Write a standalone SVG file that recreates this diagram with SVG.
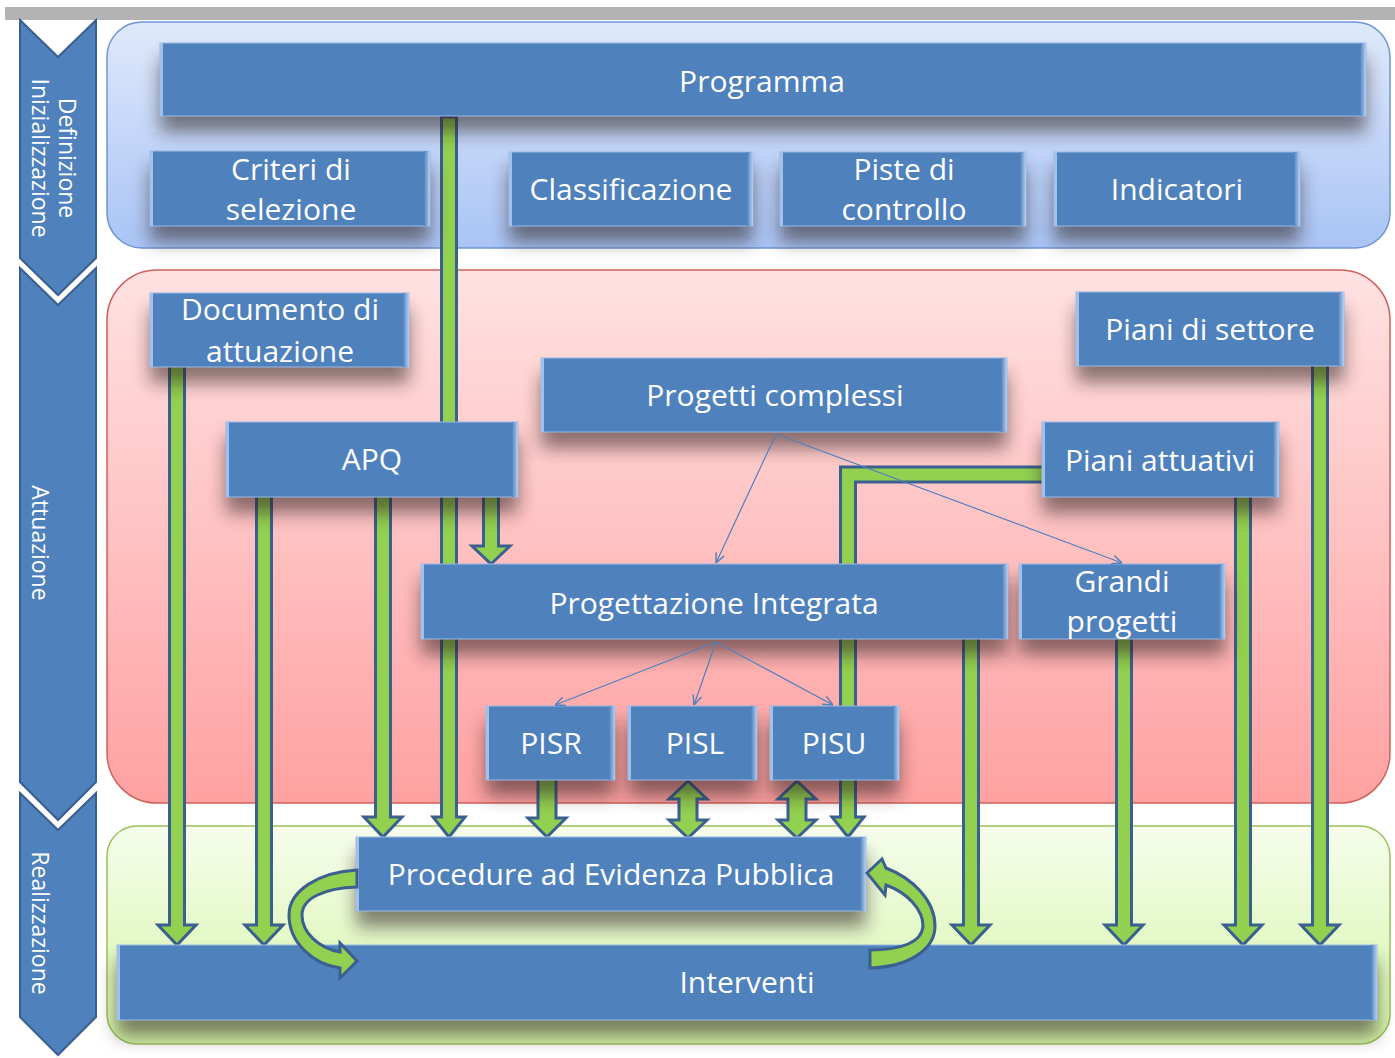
<svg xmlns="http://www.w3.org/2000/svg" width="1395" height="1058" viewBox="0 0 1395 1058">
<defs>
<linearGradient id="gBlue" x1="0" y1="0" x2="0" y2="1"><stop offset="0" stop-color="#dfe9fb"/><stop offset="1" stop-color="#a9c4f5"/></linearGradient>
<linearGradient id="gRed" x1="0" y1="0" x2="0" y2="1"><stop offset="0" stop-color="#ffe2e2"/><stop offset="1" stop-color="#ffa1a1"/></linearGradient>
<linearGradient id="gGreen" x1="0" y1="0" x2="0" y2="1"><stop offset="0" stop-color="#f6fdec"/><stop offset="1" stop-color="#d3f4a6"/></linearGradient>
<linearGradient id="gBevR" x1="0" y1="0" x2="1" y2="0"><stop offset="0" stop-color="#4f81bd"/><stop offset="1" stop-color="#b7d2f4"/></linearGradient>
<filter id="blur" x="-20%" y="-60%" width="140%" height="220%"><feGaussianBlur stdDeviation="9"/></filter>
<marker id="open" viewBox="0 0 10 10" refX="10" refY="5" markerWidth="11" markerHeight="11" markerUnits="userSpaceOnUse" orient="auto"><path d="M1,1 L10,5 L1,9" fill="none" stroke="#4f81bd" stroke-width="1.3"/></marker>
<style>
.band-b{fill:url(#gBlue);stroke:#6f95d3;stroke-width:1.5}
.band-r{fill:url(#gRed);stroke:#d0605c;stroke-width:1.5}
.band-g{fill:url(#gGreen);stroke:#9bc05a;stroke-width:1.5}
.chev{fill:#4f81bd;stroke:#3a5f8e;stroke-width:2}
.vt{font-family:"Open Sans","Liberation Sans",sans-serif;font-size:23px;fill:#ffffff;text-anchor:middle}
.sh{fill:#2a1f1f;opacity:.55;filter:url(#blur)}
.box{fill:#4f81bd;stroke:#9ab9e4;stroke-width:1}
.bl{fill:#a2c1ea}
.br{fill:url(#gBevR)}
.t{font-family:"Open Sans","Liberation Sans",sans-serif;font-size:30px;fill:#ffffff;text-anchor:middle}
.ga{fill:#92d050;stroke:#3b5f8f;stroke-width:3;stroke-linejoin:miter}
.thin{fill:none;stroke:#4f81bd;stroke-width:1.2;marker-end:url(#open)}
</style>
</defs>
<rect x="5" y="7" width="1390" height="13" fill="#b3b3b3"/>
<g id="phases">
<polygon class="chev" points="20,20 58,57 96,20 96,258 58,295 20,258"/>
<polygon class="chev" points="20,268 58,305 96,268 96,782 58,820 20,782"/>
<polygon class="chev" points="20,793 58,830 96,793 96,1017 58,1055 20,1017"/>
<text class="vt" transform="translate(59,158) rotate(90)">Definizione</text>
<text class="vt" transform="translate(32,158) rotate(90)">Inizializzazione</text>
<text class="vt" transform="translate(32,543) rotate(90)">Attuazione</text>
<text class="vt" transform="translate(32,923) rotate(90)">Realizzazione</text>
</g>
<g id="bands">
<rect class="band-b" x="107" y="22" width="1283" height="226" rx="35"/>
<rect class="band-r" x="107" y="270" width="1283" height="533" rx="50"/>
<rect class="band-g" x="107" y="826" width="1283" height="218" rx="30"/>
</g>
<g id="connectors">
<path class="ga" d="M441.5,117 H456.5 V817 H465 L449,837 L433,817 H441.5 Z"/>
<path class="ga" d="M169.5,365 H184.5 V925 H196 L177,945 L158,925 H169.5 Z"/>
<path class="ga" d="M256.5,495 H271.5 V925 H283 L264,945 L245,925 H256.5 Z"/>
<path class="ga" d="M375.5,495 H390.5 V817 H402 L383,837 L364,817 H375.5 Z"/>
<path class="ga" d="M483.5,495 H498.5 V546 H510 L491,564 L472,546 H483.5 Z"/>
<path class="ga" d="M538,778 H556 V818 H566 L547,837 L528,818 H538 Z"/>
<path class="ga" d="M688,781 L707,799 H697 V820 H707 L688,838 L669,820 H679 V799 H669 Z"/>
<path class="ga" d="M797,781 L816,799 H806 V820 H816 L797,838 L778,820 H788 V799 H778 Z"/>
<path class="ga" d="M1044,467 H840.5 V817 H832 L848,837 L864,817 H855.5 V482 H1044 Z"/>
<path class="ga" d="M963.5,637 H978.5 V925 H990 L971,945 L952,925 H963.5 Z"/>
<path class="ga" d="M1116.5,637 H1131.5 V925 H1143 L1124,945 L1105,925 H1116.5 Z"/>
<path class="ga" d="M1235.5,495 H1250.5 V925 H1262 L1243,945 L1224,925 H1235.5 Z"/>
<path class="ga" d="M1312.5,364 H1327.5 V925 H1339 L1320,945 L1301,925 H1312.5 Z"/>
</g>
<g id="n-programma"><rect class="sh" x="160" y="59" width="1206" height="73"/><rect class="box" x="160" y="43" width="1206" height="73"/><rect class="bl" x="160" y="43" width="3" height="73"/><rect class="br" x="1360" y="43" width="6" height="73"/><text class="t" x="762" y="92">Programma</text></g>
<g id="n-criteri"><rect class="sh" x="150" y="167" width="280" height="75"/><rect class="box" x="150" y="151" width="280" height="75"/><rect class="bl" x="150" y="151" width="3" height="75"/><rect class="br" x="424" y="151" width="6" height="75"/><text class="t" x="291" y="180">Criteri di</text><text class="t" x="291" y="220">selezione</text></g>
<g id="n-classificazione"><rect class="sh" x="509" y="168" width="244" height="74"/><rect class="box" x="509" y="152" width="244" height="74"/><rect class="bl" x="509" y="152" width="3" height="74"/><rect class="br" x="747" y="152" width="6" height="74"/><text class="t" x="631" y="200">Classificazione</text></g>
<g id="n-piste"><rect class="sh" x="780" y="168" width="246" height="74"/><rect class="box" x="780" y="152" width="246" height="74"/><rect class="bl" x="780" y="152" width="3" height="74"/><rect class="br" x="1020" y="152" width="6" height="74"/><text class="t" x="904" y="180">Piste di</text><text class="t" x="904" y="220">controllo</text></g>
<g id="n-indicatori"><rect class="sh" x="1054" y="168" width="246" height="74"/><rect class="box" x="1054" y="152" width="246" height="74"/><rect class="bl" x="1054" y="152" width="3" height="74"/><rect class="br" x="1294" y="152" width="6" height="74"/><text class="t" x="1177" y="200">Indicatori</text></g>
<g id="n-documento"><rect class="sh" x="150" y="309" width="259" height="74"/><rect class="box" x="150" y="293" width="259" height="74"/><rect class="bl" x="150" y="293" width="3" height="74"/><rect class="br" x="403" y="293" width="6" height="74"/><text class="t" x="280" y="320">Documento di</text><text class="t" x="280" y="362">attuazione</text></g>
<g id="n-settore"><rect class="sh" x="1076" y="308" width="268" height="74"/><rect class="box" x="1076" y="292" width="268" height="74"/><rect class="bl" x="1076" y="292" width="3" height="74"/><rect class="br" x="1338" y="292" width="6" height="74"/><text class="t" x="1210" y="340">Piani di settore</text></g>
<g id="n-complessi"><rect class="sh" x="541" y="374" width="466" height="74"/><rect class="box" x="541" y="358" width="466" height="74"/><rect class="bl" x="541" y="358" width="3" height="74"/><rect class="br" x="1001" y="358" width="6" height="74"/><text class="t" x="775" y="406">Progetti complessi</text></g>
<g id="n-apq"><rect class="sh" x="226" y="438" width="292" height="75"/><rect class="box" x="226" y="422" width="292" height="75"/><rect class="bl" x="226" y="422" width="3" height="75"/><rect class="br" x="512" y="422" width="6" height="75"/><text class="t" x="372" y="470">APQ</text></g>
<g id="n-attuativi"><rect class="sh" x="1042" y="438" width="237" height="75"/><rect class="box" x="1042" y="422" width="237" height="75"/><rect class="bl" x="1042" y="422" width="3" height="75"/><rect class="br" x="1273" y="422" width="6" height="75"/><text class="t" x="1160" y="471">Piani attuativi</text></g>
<g id="n-integrata"><rect class="sh" x="421" y="580" width="587" height="75"/><rect class="box" x="421" y="564" width="587" height="75"/><rect class="bl" x="421" y="564" width="3" height="75"/><rect class="br" x="1002" y="564" width="6" height="75"/><text class="t" x="714" y="614">Progettazione Integrata</text></g>
<g id="n-grandi"><rect class="sh" x="1019" y="580" width="206" height="75"/><rect class="box" x="1019" y="564" width="206" height="75"/><rect class="bl" x="1019" y="564" width="3" height="75"/><rect class="br" x="1219" y="564" width="6" height="75"/><text class="t" x="1122" y="592">Grandi</text><text class="t" x="1122" y="632">progetti</text></g>
<g id="n-pisr"><rect class="sh" x="486" y="722" width="129" height="74"/><rect class="box" x="486" y="706" width="129" height="74"/><rect class="bl" x="486" y="706" width="3" height="74"/><rect class="br" x="609" y="706" width="6" height="74"/><text class="t" x="551" y="754">PISR</text></g>
<g id="n-pisl"><rect class="sh" x="628" y="722" width="129" height="74"/><rect class="box" x="628" y="706" width="129" height="74"/><rect class="bl" x="628" y="706" width="3" height="74"/><rect class="br" x="751" y="706" width="6" height="74"/><text class="t" x="695" y="754">PISL</text></g>
<g id="n-pisu"><rect class="sh" x="770" y="722" width="129" height="74"/><rect class="box" x="770" y="706" width="129" height="74"/><rect class="bl" x="770" y="706" width="3" height="74"/><rect class="br" x="893" y="706" width="6" height="74"/><text class="t" x="834" y="754">PISU</text></g>
<g id="n-procedure"><rect class="sh" x="356" y="853" width="510" height="74"/><rect class="box" x="356" y="837" width="510" height="74"/><rect class="bl" x="356" y="837" width="3" height="74"/><rect class="br" x="860" y="837" width="6" height="74"/><text class="t" x="611" y="885">Procedure ad Evidenza Pubblica</text></g>
<g id="n-interventi"><rect class="sh" x="117" y="961" width="1260" height="75"/><rect class="box" x="117" y="945" width="1260" height="75"/><rect class="bl" x="117" y="945" width="3" height="75"/><rect class="br" x="1371" y="945" width="6" height="75"/><text class="t" x="747" y="993">Interventi</text></g>
<g id="connectors-over">
<path class="thin" d="M776,434 L716,563"/>
<path class="thin" d="M776,434 L1122,563"/>
<path class="thin" d="M716,642 L555,705"/>
<path class="thin" d="M716,642 L694,705"/>
<path class="thin" d="M716,642 L833,705"/>
<path class="ga" d="M357,870 C320,872 289,890 289,915 C289,942 312,964 340,968 L340,978 L357,961 L340,943 L340,952 C318,948 302,932 302,915 C302,898 325,888 357,887 Z"/>
<path class="ga" d="M867,873 L882,859 L886,868 C912,878 935,900 935,926 C935,950 908,967 870,968 L870,950 C902,950 922,942 923,926 C923,910 908,893 886,885 L885,895 Z"/>
</g>
</svg>
